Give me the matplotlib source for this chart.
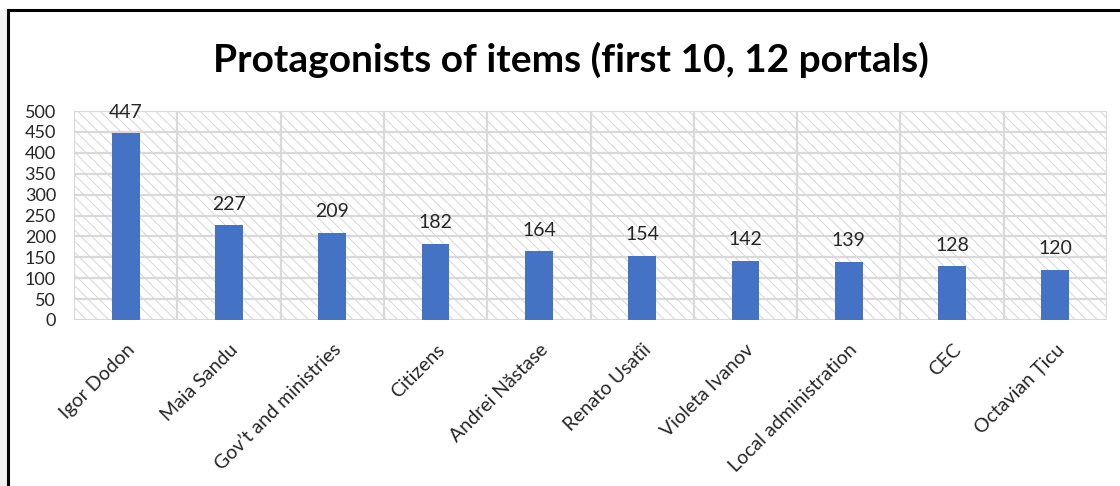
import matplotlib
matplotlib.use("Agg")
import matplotlib.pyplot as plt
from matplotlib.patches import Rectangle
from matplotlib.lines import Line2D

categories = ["Igor Dodon", "Maia Sandu", "Gov\u2019t and ministries", "Citizens",
              "Andrei N\u0103stase", "Renato Usat\u00eei", "Violeta Ivanov",
              "Local administration", "CEC", "Octavian \u021aicu"]
values = [447, 227, 209, 182, 164, 154, 142, 139, 128, 120]
y_ticks = [0, 50, 100, 150, 200, 250, 300, 350, 400, 450, 500]
title = "Protagonists of items (first 10, 12 portals)"

plt.rcParams["font.family"] = ["Lato", "DejaVu Sans"]
plt.rcParams["hatch.linewidth"] = 0.7
plt.rcParams["hatch.color"] = "#d6d6d6"

W, H = 1120, 486
fig = plt.figure(figsize=(W / 100, H / 100), dpi=100)
fig.patch.set_facecolor("white")

# grey strip left of the chart frame and the frame lines
fig.add_artist(Rectangle((0, 0), 7 / W, (H - 10) / H, transform=fig.transFigure,
                         facecolor="#f0f0f0", edgecolor="none"))
fig.add_artist(Line2D([8 / W, 8 / W], [0, (H - 10) / H], transform=fig.transFigure,
                      color="black", lw=2.2))
fig.add_artist(Line2D([8 / W, 1], [(H - 10) / H, (H - 10) / H], transform=fig.transFigure,
                      color="black", lw=2.2))

left, right, top, bottom = 74, 1107, 111, 320
ax = fig.add_axes([left / W, (H - bottom) / H, (right - left) / W, (bottom - top) / H])

n = len(categories)
x = list(range(n))
ax.set_xlim(-0.5, n - 0.5)
ax.set_ylim(0, 500)

# hatched plot background
ax.add_patch(Rectangle((0, 0), 1, 1, transform=ax.transAxes, facecolor="white",
                       edgecolor="#d6d6d6", hatch="\\\\\\", lw=0, zorder=0))

grid_c = "#d9d9d9"
for yv in y_ticks:
    ax.axhline(yv, color=grid_c, lw=1.6, zorder=1)
for i in range(n + 1):
    ax.axvline(i - 0.5, color=grid_c, lw=1.6, zorder=1)

ax.bar(x, values, width=0.27, color="#4472C4", zorder=3)
for xi, v in zip(x, values):
    ax.annotate(str(v), (xi, v), xytext=(0, 9), textcoords="offset points",
                ha="center", va="bottom", fontsize=14, color="#262626", zorder=4)

for s in ax.spines.values():
    s.set_visible(False)
ax.set_yticks(y_ticks)
ax.set_yticklabels([str(t) for t in y_ticks], fontsize=13, color="#262626")
ax.tick_params(axis="y", length=0, pad=13)
ax.set_xticks(x)
ax.set_xticklabels(categories, rotation=45, ha="right", rotation_mode="anchor",
                   fontsize=14, color="#262626")
ax.tick_params(axis="x", length=0, pad=15)

fig.text(571 / W, (H - 60) / H, title, ha="center", va="center",
         fontsize=28, fontweight="bold", color="black")

fig.savefig("out.png", dpi=100, facecolor="white")
